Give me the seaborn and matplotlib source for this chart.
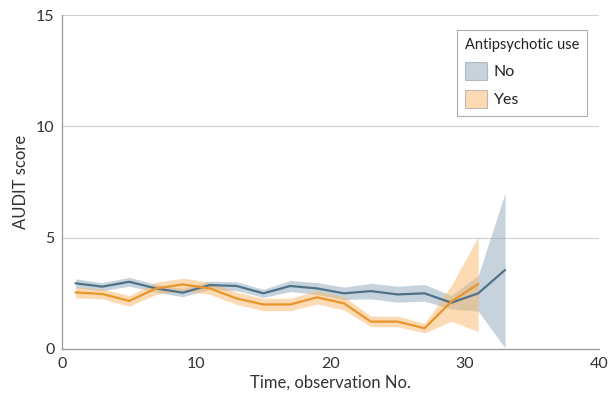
import numpy as np
import pandas as pd
import matplotlib
matplotlib.use("Agg")
import matplotlib.pyplot as plt
import seaborn as sns
from matplotlib.patches import Patch

# Observation numbers (odd visits)
obs_no = [1, 3, 5, 7, 9, 11, 13, 15, 17, 19, 21, 23, 25, 27, 29, 31, 33]
obs_yes = obs_no[:-1]

# Mean AUDIT score and confidence band, no antipsychotic use
no_mean = [2.95, 2.80, 3.02, 2.72, 2.53, 2.87, 2.83, 2.50, 2.83, 2.72, 2.50, 2.60, 2.45, 2.50, 2.08, 2.50, 3.55]
no_lo = [2.75, 2.62, 2.82, 2.55, 2.35, 2.68, 2.62, 2.32, 2.58, 2.45, 2.22, 2.25, 2.10, 2.15, 1.80, 1.70, 0.05]
no_hi = [3.15, 2.98, 3.22, 2.90, 2.72, 3.05, 3.02, 2.68, 3.08, 2.98, 2.78, 2.95, 2.82, 2.90, 2.40, 3.30, 7.00]

# Mean AUDIT score and confidence band, antipsychotic use
yes_mean = [2.54, 2.47, 2.16, 2.72, 2.90, 2.72, 2.27, 2.00, 2.00, 2.32, 2.05, 1.23, 1.23, 0.93, 2.13, 2.92]
yes_lo = [2.30, 2.25, 1.92, 2.45, 2.62, 2.45, 2.00, 1.72, 1.72, 2.02, 1.75, 1.00, 1.00, 0.72, 1.25, 0.78]
yes_hi = [2.78, 2.70, 2.40, 3.00, 3.18, 3.00, 2.55, 2.28, 2.28, 2.62, 2.35, 1.48, 1.48, 1.15, 2.85, 5.05]

groups = ["No", "Yes"]
line_colors = {"No": "#4f7289", "Yes": "#e8952c"}
fill_colors = {"No": "#8fa8ba", "Yes": "#f9b66a"}

df = pd.concat([
    pd.DataFrame({"obs": obs_no, "score": no_mean, "lo": no_lo, "hi": no_hi, "group": "No"}),
    pd.DataFrame({"obs": obs_yes, "score": yes_mean, "lo": yes_lo, "hi": yes_hi, "group": "Yes"}),
])

sns.set_style("white")
plt.rcParams["font.family"] = ["Lato", "DejaVu Sans"]

fig = plt.figure(figsize=(6.09, 4.00), dpi=100)
ax = fig.add_axes([0.102, 0.1275, 0.8816, 0.835])

# confidence bands
for g in groups:
    sub = df[df["group"] == g]
    ax.fill_between(sub["obs"], sub["lo"], sub["hi"], color=fill_colors[g], alpha=0.5, lw=0)

sns.lineplot(data=df, x="obs", y="score", hue="group", palette=line_colors,
             linewidth=1.6, errorbar=None, legend=False, ax=ax)

ax.set_xlim(0, 40)
ax.set_ylim(0, 15)
ax.set_xticks([0, 10, 20, 30, 40])
ax.set_yticks([0, 5, 10, 15])
ax.yaxis.grid(True, color="#d0d0d0", lw=0.8)
ax.set_axisbelow(True)
for s in ["top", "right"]:
    ax.spines[s].set_visible(False)
for s in ["left", "bottom"]:
    ax.spines[s].set_color("#999999")
    ax.spines[s].set_linewidth(0.9)
ax.tick_params(axis="both", direction="out", length=3.5, width=0.9, color="#999999",
               labelsize=11.5, labelcolor="#333333", pad=2)
ax.set_xlabel("Time, observation No.", fontsize=12, color="#333333", labelpad=3)
ax.set_ylabel("AUDIT score", fontsize=12, color="#333333", labelpad=5)

handles = [Patch(facecolor=fill_colors[g], alpha=0.5, edgecolor="#888888", lw=0.8) for g in groups]
leg = ax.legend(handles, groups, title="Antipsychotic use", loc="upper right",
                bbox_to_anchor=(0.978, 0.955), borderaxespad=0, fontsize=11.5, title_fontsize=10.5,
                frameon=True, fancybox=False, edgecolor="#999999",
                handlelength=1.4, handleheight=1.4, borderpad=0.5, labelspacing=0.6,
                handletextpad=0.4, alignment="left")
leg.get_frame().set_linewidth(0.8)
for t in leg.get_texts():
    t.set_color("#222222")
leg.get_title().set_color("#222222")

fig.savefig("out.png", dpi=100)
